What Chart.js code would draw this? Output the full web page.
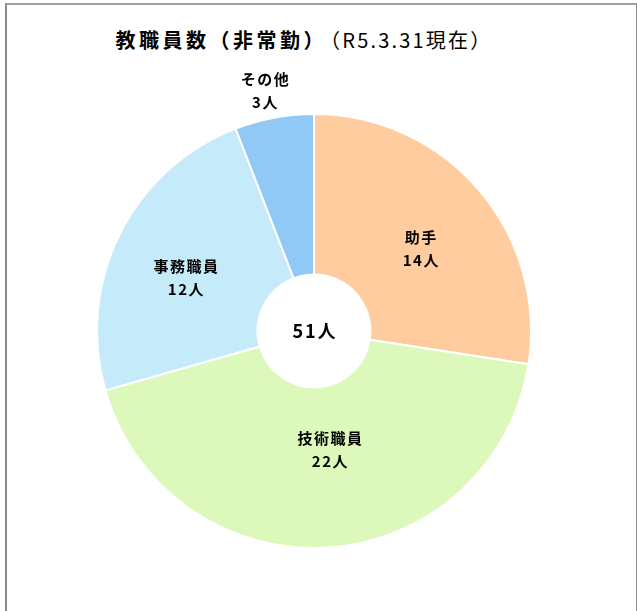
<!DOCTYPE html>
<html>
<head>
<meta charset="utf-8">
<script src="https://cdn.jsdelivr.net/npm/chart.js@4.4.1/dist/chart.umd.min.js"></script>
<style>
  html, body { margin: 0; padding: 0; background: #ffffff; }
  #wrap { position: relative; width: 637px; height: 611px; overflow: hidden; }
  #frame { position: absolute; left: 5px; top: 3px; width: 629px; height: 606px;
           border-left: 2px solid #8c8c8c; border-top: 2px solid #a0a0a0; border-right: 2px solid #8c8c8c;
           border-bottom: 1px solid #dcdcdc; box-sizing: content-box; }
  #title { position: absolute; left: 0; top: 25px; width: 608px; text-align: center;
           font-family: "Noto Sans CJK JP", sans-serif; color: #000; white-space: nowrap; line-height: 30px; }
  #title b { font-weight: 700; font-size: 20px; letter-spacing: 3.5px; }
  #title span { font-weight: 400; font-size: 20px; letter-spacing: 2.2px; margin-left: 3px; }
  canvas { position: absolute; left: 0; top: 0; }
</style>
</head>
<body>
<div id="wrap">
  <div id="frame"></div>
  <div id="title"><b>教職員数（非常勤）</b><span>（R5.3.31現在）</span></div>
  <canvas id="c" width="637" height="611"></canvas>
</div>
<script>
const categories = ["助手", "技術職員", "事務職員", "その他"];
const counts = [14, 22, 12, 3];
const unit = "人";
const total = counts.reduce((a, b) => a + b, 0);

const sliceColors = ["#FFCCA0", "#DCF8BB", "#C5EBFA", "#90C8F6"];
// label placement: distance as a factor of the outer radius, and an angular nudge in degrees
const labelRadial = [0.62, 0.55, 0.64, 1.13];
const labelNudgeDeg = [3, -4, -4, -1];

const labelPlugin = {
  id: "sliceLabels",
  afterDatasetsDraw(chart) {
    const ctx = chart.ctx;
    const meta = chart.getDatasetMeta(0);
    ctx.save();
    ctx.fillStyle = "#000";
    ctx.textAlign = "center";
    ctx.textBaseline = "middle";
    ctx.font = "bold 15px 'Noto Sans CJK JP', sans-serif";
    const ls = 1.5;
    ctx.letterSpacing = ls + "px";
    meta.data.forEach((arc, i) => {
      const p = arc.getProps(["x", "y", "startAngle", "endAngle", "innerRadius", "outerRadius"], true);
      const mid = (p.startAngle + p.endAngle) / 2 + labelNudgeDeg[i] * Math.PI / 180;
      const r = p.outerRadius * labelRadial[i];
      const x = p.x + Math.cos(mid) * r + ls / 2;
      const y = p.y + Math.sin(mid) * r;
      ctx.fillText(categories[i], x, y - 11.5);
      ctx.fillText(counts[i] + unit, x, y + 11.5);
    });
    const c = meta.data[0];
    ctx.font = "bold 18px 'Noto Sans CJK JP', sans-serif";
    ctx.letterSpacing = "2px";
    ctx.fillText(total + unit, c.x + 1, c.y);
    ctx.restore();
  }
};

new Chart(document.getElementById("c"), {
  type: "doughnut",
  data: {
    labels: categories,
    datasets: [{
      data: counts,
      backgroundColor: sliceColors,
      borderColor: "#ffffff",
      borderWidth: 2
    }]
  },
  options: {
    responsive: false,
    animation: false,
    cutout: "26%",
    layout: { padding: { left: 96, right: 105, top: 113, bottom: 62 } },
    plugins: {
      legend: { display: false },
      tooltip: { enabled: false },
      title: { display: false }
    }
  },
  plugins: [labelPlugin]
});
</script>
</body>
</html>
